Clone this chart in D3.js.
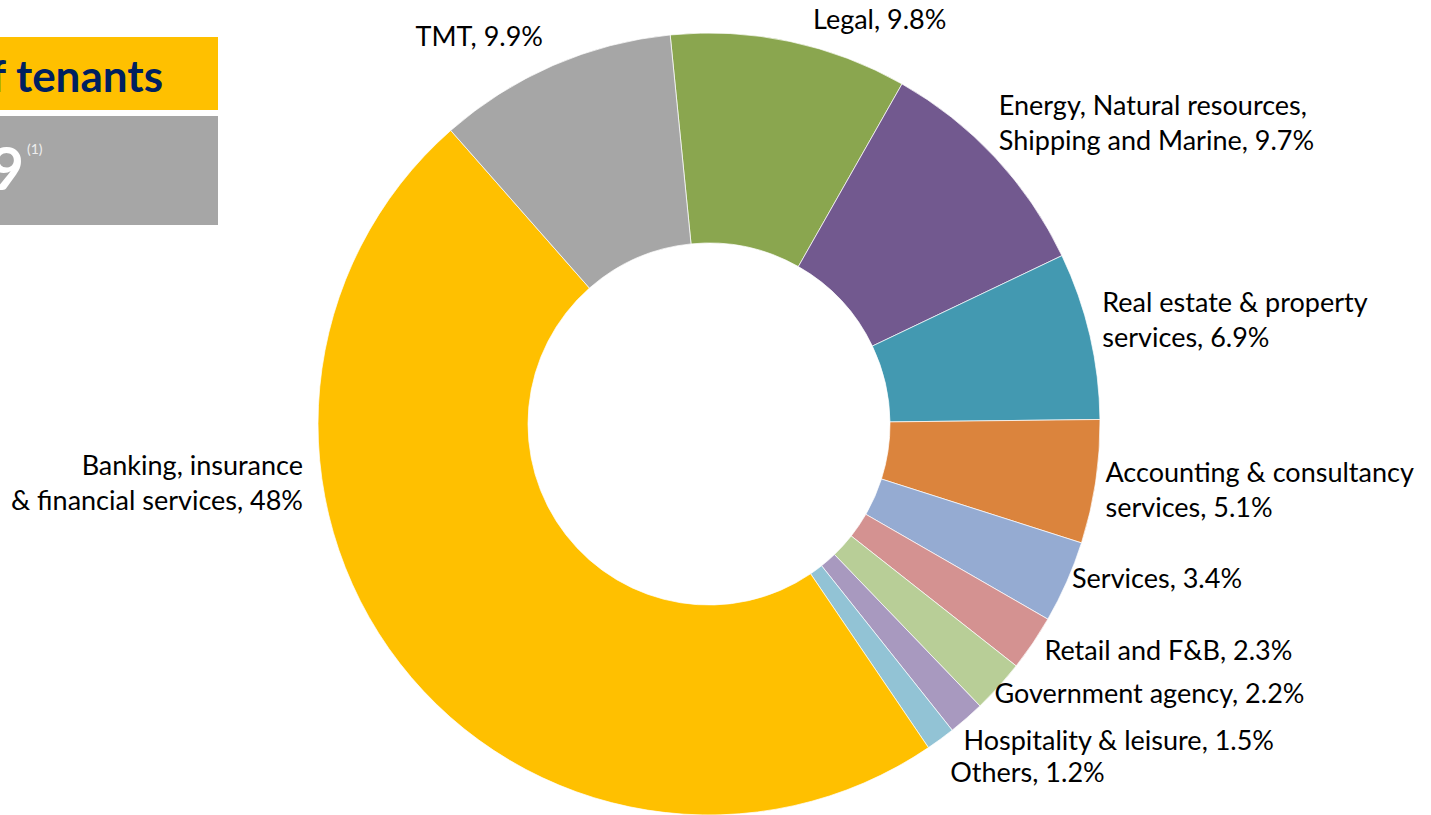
<!DOCTYPE html>
<html>
<head>
<meta charset="utf-8">
<script src="https://cdn.jsdelivr.net/npm/d3@7"></script>
<style>
  body { margin: 0; background: #fff; }
  svg { display: block; font-family: Lato, "Liberation Sans", sans-serif; }
</style>
</head>
<body>
<div id="chart"></div>
<script>
// sector shares, clockwise from the first slice
var sectors = ['Legal', 'Energy, Natural resources, Shipping and Marine', 'Real estate & property services',
  'Accounting & consultancy services', 'Services', 'Retail and F&B', 'Government agency',
  'Hospitality & leisure', 'Others', 'Banking, insurance & financial services', 'TMT']
var shares = [9.8, 9.7, 6.9, 5.1, 3.4, 2.3, 2.2, 1.5, 1.2, 48, 9.9]
var shareText = ['9.8%', '9.7%', '6.9%', '5.1%', '3.4%', '2.3%', '2.2%', '1.5%', '1.2%', '48%', '9.9%']
// how the label text breaks into lines
var labelLines = [
  ['Legal, 9.8%'],
  ['Energy, Natural resources,', 'Shipping and Marine, 9.7%'],
  ['Real estate & property', 'services, 6.9%'],
  ['Accounting & consultancy', 'services, 5.1%'],
  ['Services, 3.4%'],
  ['Retail and F&B, 2.3%'],
  ['Government agency, 2.2%'],
  ['Hospitality & leisure, 1.5%'],
  ['Others, 1.2%'],
  ['Banking, insurance', '& financial services, 48%'],
  ['TMT, 9.9%']
]
var colors = ['#8AA64F', '#72598F', '#4399B1', '#DB843D', '#95ABD2', '#D49291', '#B8CE97',
  '#A899BF', '#92C3D5', '#FFC000', '#A6A6A6']
// label nudges from the default spot beside each slice
var nudge = [[19, -2], [-11, -21], [-7, -11], [-10, 5], [-13, -11], [-5, -4], [-19, -6],
  [-16, 7], [-2, 17], [-81, -193], [-2, -11]]

var width = 1431, height = 815
var cx = 709, cy = 424
var outerR = 391, innerR = 181
var startAngle = -5.7 * Math.PI / 180

var svg = d3.select('#chart').append('svg')
  .attr('width', width)
  .attr('height', height)

// left side header boxes (cut off by the slide edge)
svg.append('rect').attr('x', -10).attr('y', 37).attr('width', 228).attr('height', 73).attr('fill', '#FFC000')
svg.append('rect').attr('x', -10).attr('y', 116).attr('width', 228).attr('height', 109).attr('fill', '#A6A6A6')
svg.append('text').attr('x', 163).attr('y', 92).attr('text-anchor', 'end')
  .attr('font-size', 44).attr('font-weight', 'bold').attr('fill', '#002060')
  .text('of tenants')
svg.append('text').attr('x', 24).attr('y', 190).attr('text-anchor', 'end')
  .attr('font-size', 60).attr('font-weight', 'bold').attr('fill', '#fff')
  .text('9')
svg.append('text').attr('x', 27).attr('y', 154)
  .attr('font-size', 14).attr('fill', '#eee')
  .text('(1)')

var pie = d3.pie().sort(null).value(function(d) { return d })
  .startAngle(startAngle).endAngle(startAngle + 2 * Math.PI)
var arcs = pie(shares)

var arc = d3.arc().innerRadius(innerR).outerRadius(outerR)

var g = svg.append('g').attr('transform', 'translate(' + cx + ',' + cy + ')')

g.selectAll('path')
  .data(arcs)
  .enter()
  .append('path')
    .attr('d', arc)
    .attr('fill', function(d, i) { return colors[i] })
    .attr('stroke', '#fff')
    .attr('stroke-width', 0.7)

var fontSize = 27, lineH = 35
var labels = g.selectAll('text.lbl')
  .data(arcs)
  .enter()
  .append('text')
    .attr('class', 'lbl')
    .attr('font-size', fontSize)
    .attr('fill', '#000')
    .each(function(d, i) {
      var mid = (d.startAngle + d.endAngle) / 2
      var r = outerR + 20
      var x = r * Math.sin(mid) + nudge[i][0]
      var y = -r * Math.cos(mid) + nudge[i][1]
      var right = Math.sin(mid) > 0
      var lines = labelLines[i]
      var top = y - (lines.length - 1) * lineH / 2
      var t = d3.select(this).attr('text-anchor', right ? 'start' : 'end')
      lines.forEach(function(line, k) {
        t.append('tspan')
          .attr('x', x)
          .attr('y', top + k * lineH)
          .attr('dy', '0.35em')
          .text(line)
      })
    })
</script>
</body>
</html>
